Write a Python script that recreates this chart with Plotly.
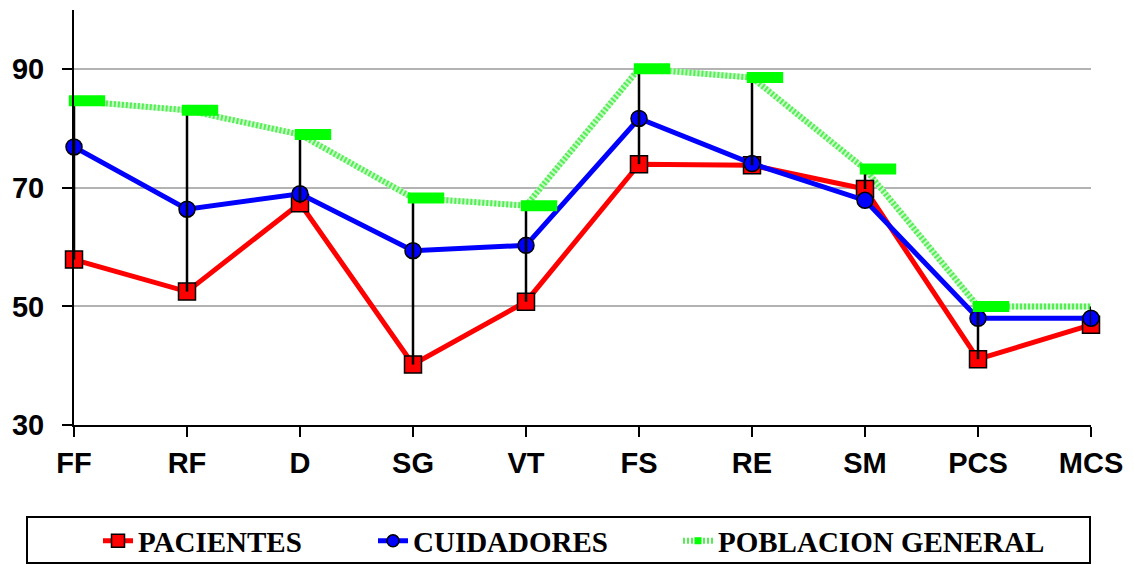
import plotly.graph_objects as go

categories = ["FF", "RF", "D", "SG", "VT", "FS", "RE", "SM", "PCS", "MCS"]
pacientes = [57.9, 52.5, 67.4, 40.2, 50.8, 74.0, 73.8, 69.8, 41.1, 46.9]
cuidadores = [76.9, 66.4, 69.0, 59.4, 60.3, 81.7, 74.1, 67.9, 48.0, 48.0]
poblacion = [84.7, 83.1, 79.0, 68.3, 67.0, 90.1, 88.6, 73.2, 50.0, 50.0]
series_names = ["PACIENTES", "CUIDADORES", "POBLACION GENERAL"]
y_ticks = [30, 50, 70, 90]

RED, BLUE, GREEN = "#ff0000", "#0000ff", "#00ff00"
HATCH = "#55ee55"

fig = go.Figure()

# Poblacion general line (hatched look)
fig.add_trace(go.Scatter(x=categories, y=poblacion, mode="lines",
                         line=dict(color="#c8f8c8", width=6), showlegend=False,
                         cliponaxis=False, hoverinfo="skip"))
fig.add_trace(go.Scatter(x=categories, y=poblacion, mode="lines",
                         line=dict(color=HATCH, width=6, dash="2px,2px"), showlegend=False,
                         cliponaxis=False))

# Pacientes
fig.add_trace(go.Scatter(x=categories, y=pacientes, mode="lines+markers",
                         line=dict(color=RED, width=5),
                         marker=dict(symbol="square", size=17, color=RED,
                                     line=dict(color="black", width=1.5)),
                         showlegend=False, cliponaxis=False, name=series_names[0]))
# Cuidadores
fig.add_trace(go.Scatter(x=categories, y=cuidadores, mode="lines+markers",
                         line=dict(color=BLUE, width=5),
                         marker=dict(symbol="circle", size=16, color=BLUE,
                                     line=dict(color="black", width=1.5)),
                         showlegend=False, cliponaxis=False, name=series_names[1]))
# Poblacion markers (Excel dash markers, drawn right of the point)
fig.add_trace(go.Scatter(x=categories, y=poblacion, mode="markers", xaxis="x2",
                         marker=dict(symbol="line-ew", size=26, color=GREEN,
                                     line=dict(color=GREEN, width=11)),
                         showlegend=False, cliponaxis=False, name=series_names[2]))

# High-low lines from pacientes to poblacion general
diff = [p - q for p, q in zip(poblacion, pacientes)]
fig.add_trace(go.Scatter(x=categories, y=pacientes, mode="markers",
                         marker=dict(size=1, opacity=0),
                         error_y=dict(type="data", array=diff, arrayminus=[0] * len(diff),
                                      symmetric=False, color="black", thickness=2.5, width=0),
                         showlegend=False, cliponaxis=False, hoverinfo="skip"))

# Legend entries
fig.add_trace(go.Scatter(x=[None], y=[None], mode="lines+markers", name=series_names[0],
                         line=dict(color=RED, width=5),
                         marker=dict(symbol="square", size=13, color=RED,
                                     line=dict(color="black", width=1.5)),
                         legend="legend"))
fig.add_trace(go.Scatter(x=[None], y=[None], mode="lines+markers", name=series_names[1],
                         line=dict(color=BLUE, width=5),
                         marker=dict(symbol="circle", size=12, color=BLUE,
                                     line=dict(color="black", width=1.5)),
                         legend="legend2"))
fig.add_trace(go.Scatter(x=[None], y=[None], mode="lines+markers", name=series_names[2],
                         line=dict(color=HATCH, width=6, dash="2px,2px"),
                         marker=dict(symbol="square", size=7, color=GREEN, line=dict(width=0)),
                         legend="legend3"))

tickfont = dict(family="Liberation Sans, Arial", size=29, color="black", weight="bold")
legfont = dict(family="Liberation Serif, Times New Roman", size=29, color="black", weight="bold")

n = len(categories)
leg_common = dict(orientation="h", yanchor="middle", y=-0.2795, xanchor="left",
                  font=legfont, bgcolor="rgba(0,0,0,0)", borderwidth=0)

# The page has an 8px body margin, so the figure is shifted accordingly
fig.update_layout(
    width=1126, height=557,
    margin=dict(l=66, r=43, t=2, b=140, autoexpand=False),
    paper_bgcolor="white", plot_bgcolor="white",
    xaxis=dict(type="category", categoryarray=categories, range=[0, n - 1],
               showline=True, linecolor="black", linewidth=2,
               ticks="outside", ticklen=10, tickwidth=2, tickcolor="black",
               showgrid=False, tickfont=tickfont, zeroline=False, ticklabelstandoff=1,
               automargin=False),
    xaxis2=dict(type="category", categoryarray=categories, range=[-0.115, n - 1 - 0.115],
                overlaying="x", visible=False),
    yaxis=dict(range=[30, 100], tickvals=y_ticks,
               showline=True, linecolor="black", linewidth=2,
               ticks="outside", ticklen=10, tickwidth=2, tickcolor="black",
               showgrid=True, gridcolor="#b3b3b3", gridwidth=2,
               tickfont=tickfont, zeroline=False, ticklabelstandoff=12,
               automargin=False),
    legend=dict(x=(98 - 74) / 1017, **leg_common),
    legend2=dict(x=(373 - 74) / 1017, **leg_common),
    legend3=dict(x=(678 - 74) / 1017, **leg_common),
    shapes=[dict(type="rect", xref="paper", yref="paper",
                 x0=(27 - 74) / 1017, x1=(1090 - 74) / 1017,
                 y0=(425 - 517) / 415, y1=(425 - 563) / 415,
                 line=dict(color="black", width=2), fillcolor="rgba(0,0,0,0)")],
    showlegend=True,
)

fig.write_html("out.html")
